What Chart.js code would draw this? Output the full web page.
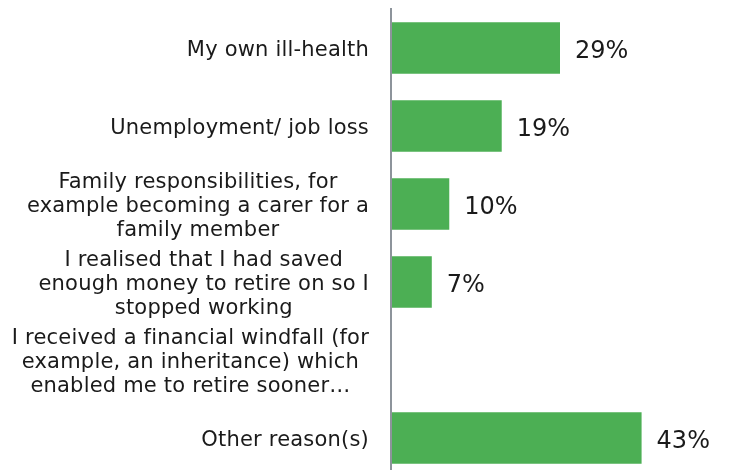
<!DOCTYPE html>
<html>
<head>
<meta charset="utf-8">
<title>Reasons for retiring</title>
<script src="https://cdn.jsdelivr.net/npm/chart.js@4.4.1/dist/chart.umd.min.js"></script>
<style>
  html, body { margin: 0; padding: 0; background: #fff; overflow: hidden; }
  #wrap { position: relative; width: 729px; height: 477px; }
</style>
</head>
<body>
<div id="wrap"><canvas id="reasonsChart"></canvas></div>
<script>
// reasons, one array of wrapped lines per category
const reasons = [
    ['My own ill-health'],
    ['Unemployment/ job loss'],
    ['Family responsibilities, for', 'example becoming a carer for a', 'family member'],
    ['I realised that I had saved', 'enough money to retire on so I', 'stopped working'],
    ['I received a financial windfall (for', 'example, an inheritance) which', 'enabled me to retire sooner…'],
    ['Other reason(s)']
]
// share of respondents, % (no value shown for the windfall row)
const shares = [29, 19, 10, 7, null, 43]
const xMax = 58

const FONT = '"DejaVu Sans", Verdana, sans-serif'
const TEXT = '#1a1a1a'

// category labels: block right-aligned next to the axis, lines centred in the block
const categoryLabels = {
    id: 'categoryLabels',
    afterDraw(chart) {
        const { ctx } = chart
        const y = chart.scales.y
        const right = y.right - 22
        const lh = 24
        ctx.save()
        ctx.font = `21px ${FONT}`
        ctx.letterSpacing = '0.2px' // also keeps "fi" from joining
        ctx.fillStyle = TEXT
        ctx.textAlign = 'center'
        ctx.textBaseline = 'alphabetic'
        reasons.forEach((lines, i) => {
            const cy = y.getPixelForValue(i)
            const blockW = Math.max(...lines.map(l => ctx.measureText(l).width))
            const cx = right - blockW / 2
            const top = cy - (lines.length - 1) * lh / 2
            lines.forEach((l, j) => ctx.fillText(l, cx, top + j * lh + 7.5))
        })
        ctx.restore()
    }
}

// percentage labels to the right of each bar
const valueLabels = {
    id: 'valueLabels',
    afterDatasetsDraw(chart) {
        const { ctx } = chart
        const meta = chart.getDatasetMeta(0)
        ctx.save()
        ctx.font = `24px ${FONT}`
        ctx.fillStyle = TEXT
        ctx.textAlign = 'left'
        ctx.textBaseline = 'alphabetic'
        meta.data.forEach((bar, i) => {
            const v = shares[i]
            if (v === null || v === undefined) return
            ctx.fillText(v + '%', bar.x + 15, bar.y + 9.5)
        })
        ctx.restore()
    }
}

const ctx = document.getElementById('reasonsChart').getContext('2d')
new Chart(ctx, {
    type: 'bar',
    data: {
        labels: reasons.map(l => l.join(' ')),
        datasets: [{
            data: shares,
            backgroundColor: '#4caf54',
            borderWidth: 0,
            barPercentage: 0.663,
            categoryPercentage: 1
        }]
    },
    options: {
        indexAxis: 'y',
        responsive: true,
        maintainAspectRatio: false,
        animation: false,
        layout: { padding: { top: 9, right: 0, bottom: 0, left: 0 } },
        scales: {
            x: { display: false, min: 0, max: xMax },
            y: {
                grid: { display: false },
                ticks: { display: false },
                border: { display: true, color: '#8d949b', width: 2, z: 1 },
                afterFit: (s) => { s.width = 391 }
            }
        },
        plugins: {
            legend: { display: false },
            tooltip: { enabled: false }
        }
    },
    plugins: [categoryLabels, valueLabels]
})
</script>
</body>
</html>
